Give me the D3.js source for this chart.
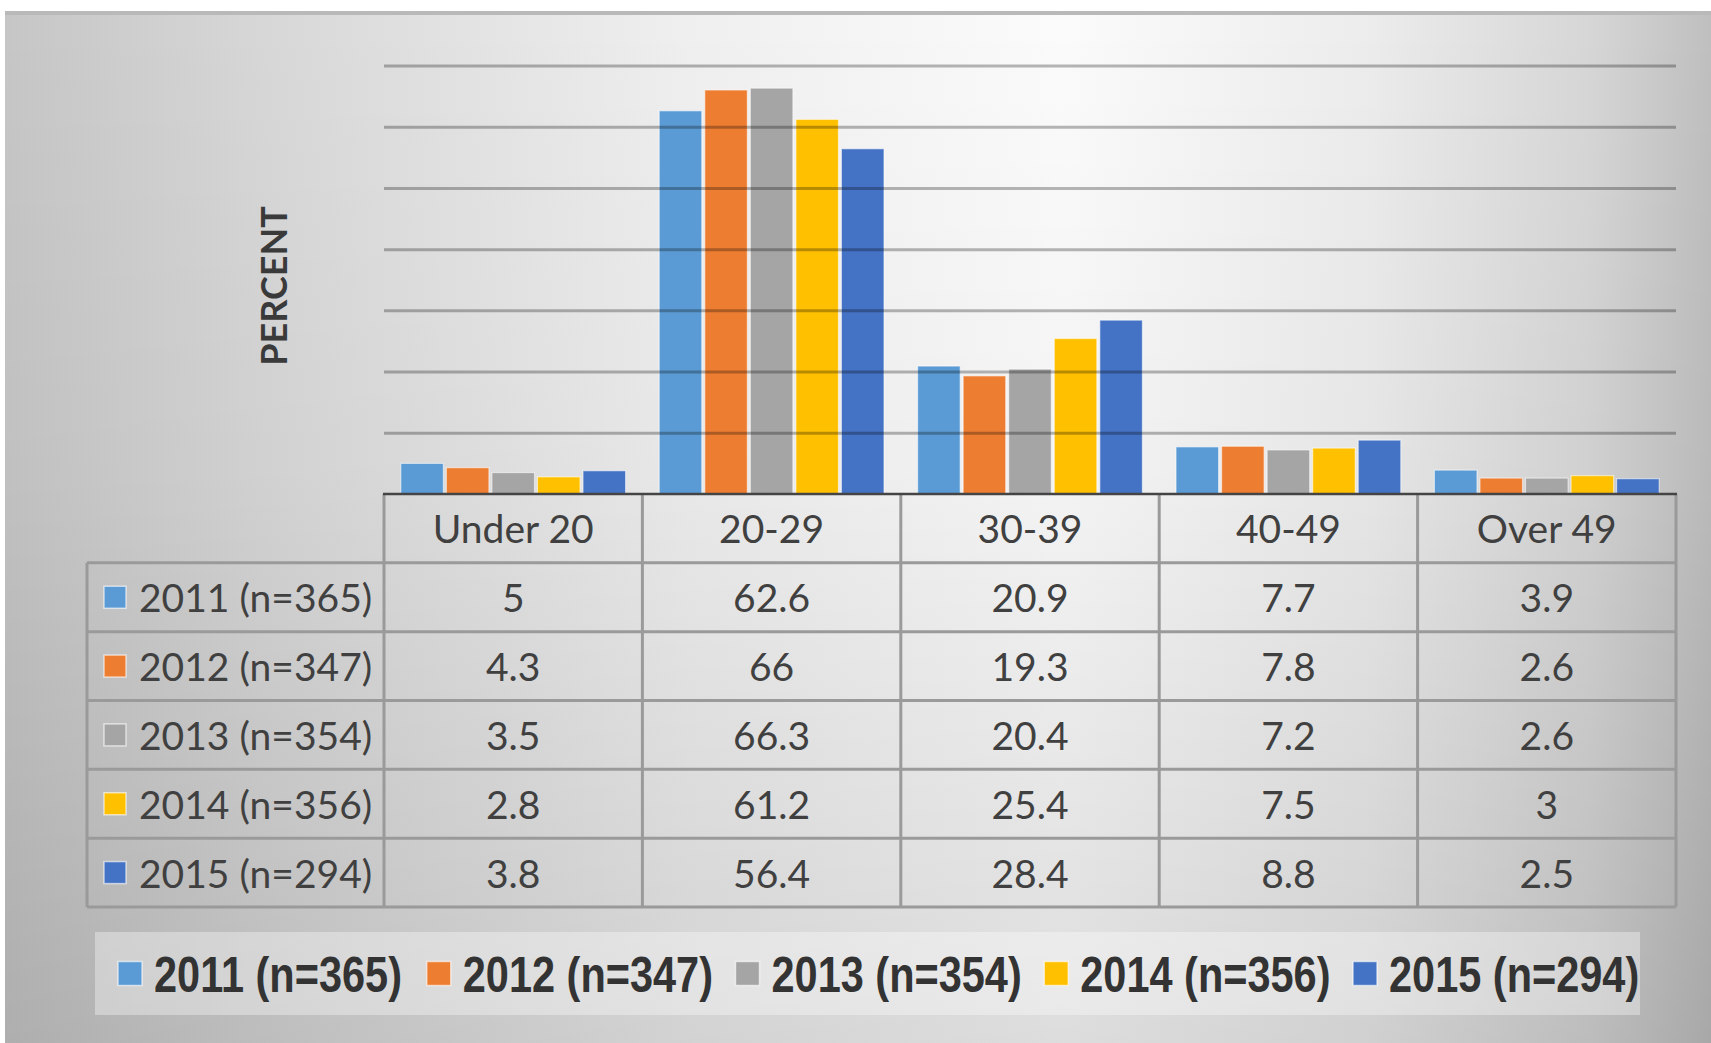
<!DOCTYPE html>
<html>
<head>
<meta charset="utf-8">
<script src="https://cdn.jsdelivr.net/npm/d3@7"></script>
<style>
  html, body { margin: 0; padding: 0; background: #ffffff; }
  svg { display: block; }
</style>
</head>
<body>
<svg id="chart" width="1711" height="1043"></svg>
<script>
// Age groups (x categories)
const categories = ["Under 20", "20-29", "30-39", "40-49", "Over 49"];

// Survey years (series)
const seriesNames = ["2011 (n=365)", "2012 (n=347)", "2013 (n=354)", "2014 (n=356)", "2015 (n=294)"];

// Percent of respondents per age group, one array per year
const values2011 = [5, 62.6, 20.9, 7.7, 3.9];
const values2012 = [4.3, 66, 19.3, 7.8, 2.6];
const values2013 = [3.5, 66.3, 20.4, 7.2, 2.6];
const values2014 = [2.8, 61.2, 25.4, 7.5, 3];
const values2015 = [3.8, 56.4, 28.4, 8.8, 2.5];

// Gridline values on the percent axis
const yTicks = [10, 20, 30, 40, 50, 60, 70];

const seriesColors = ["#5B9BD5", "#ED7D31", "#A5A5A5", "#FFC000", "#4472C4"];

const seriesValues = [values2011, values2012, values2013, values2014, values2015];
const series = seriesNames.map((name, i) => ({ name, color: seriesColors[i], values: seriesValues[i] }));

const W = 1711, H = 1043;
const svg = d3.select("#chart");
const defs = svg.append("defs");

// ---- background panel with soft gray shading ----
const hGrad = defs.append("linearGradient").attr("id", "bgH").attr("x1", 0).attr("x2", 1).attr("y1", 0).attr("y2", 0);
[[0, "#c6c6c6"], [0.18, "#dadada"], [0.4, "#efefef"], [0.62, "#fbfbfb"], [0.8, "#ececec"], [0.93, "#d6d6d6"], [1, "#bfbfbf"]]
  .forEach(([o, c]) => hGrad.append("stop").attr("offset", o).attr("stop-color", c));
const vGrad = defs.append("linearGradient").attr("id", "bgV").attr("x1", 0).attr("x2", 0).attr("y1", 0).attr("y2", 1);
[[0, 0], [0.45, 0.03], [1, 0.12]]
  .forEach(([o, a]) => vGrad.append("stop").attr("offset", o).attr("stop-color", "#000").attr("stop-opacity", a));

svg.append("rect").attr("x", 5).attr("y", 11).attr("width", W - 5).attr("height", H - 11).attr("fill", "url(#bgH)");
svg.append("rect").attr("x", 5).attr("y", 11).attr("width", W - 5).attr("height", H - 11).attr("fill", "url(#bgV)");
svg.append("line").attr("x1", 5).attr("x2", W).attr("y1", 13).attr("y2", 13)
  .attr("stroke", "#b9b9b9").attr("stroke-width", 4);

// ---- scales ----
const plotLeft = 384, plotRight = 1676, baseY = 494, topY = 65.5;
const tableLeft = 87;

const x0 = d3.scaleBand().domain(categories).range([plotLeft, plotRight])
  .paddingInner(0.13).paddingOuter(0.065);
const x1 = d3.scaleBand().domain(seriesNames).range([0, x0.bandwidth()])
  .paddingInner(0.065).paddingOuter(0);
const y = d3.scaleLinear().domain([0, 70]).range([baseY, topY]);

// Table rows: header row of category names, then one row per year
const rowKeys = ["header"].concat(seriesNames);
const rowScale = d3.scaleBand().domain(rowKeys).range([baseY, 907]);

// ---- bars ----
const barG = svg.append("g");
categories.forEach((cat, ci) => {
  const g = barG.append("g").attr("transform", `translate(${x0(cat)},0)`);
  g.selectAll("rect").data(series).join("rect")
    .attr("x", d => x1(d.name))
    .attr("width", x1.bandwidth())
    .attr("y", d => y(d.values[ci]))
    .attr("height", d => y(0) - y(d.values[ci]))
    .attr("fill", d => d.color)
    .attr("stroke", "#ffffff").attr("stroke-opacity", 0.55).attr("stroke-width", 1.2);
});

// ---- horizontal gridlines (drawn over the bars, semi-transparent) ----
const grid = svg.append("g").attr("transform", `translate(${plotLeft},0)`)
  .call(d3.axisLeft(y).tickValues(yTicks).tickSize(-(plotRight - plotLeft)).tickFormat(""));
grid.select(".domain").remove();
grid.selectAll(".tick line").attr("stroke", "#000").attr("stroke-opacity", 0.28).attr("stroke-width", 3);

// ---- y-axis title ----
svg.append("text")
  .attr("transform", "translate(273,286) rotate(-90)")
  .attr("text-anchor", "middle").attr("dominant-baseline", "central")
  .attr("font-family", "Lato, 'Open Sans', sans-serif").attr("font-weight", 700)
  .attr("font-size", 36).attr("fill", "#3a3a3a")
  .text("PERCENT");

// ---- data table ----
const tbl = svg.append("g");
const lineColor = "#9a9a9a";
const colEdges = d3.range(categories.length + 1).map(i => plotLeft + i * x0.step());
const rowEdges = rowKeys.map(k => rowScale(k)).concat([rowScale.range()[1]]);

// horizontal rules
rowEdges.slice(1).forEach(yy => {
  tbl.append("line").attr("x1", tableLeft).attr("x2", plotRight).attr("y1", yy).attr("y2", yy)
    .attr("stroke", lineColor).attr("stroke-width", 3);
});
// vertical rules
tbl.append("line").attr("x1", tableLeft).attr("x2", tableLeft)
  .attr("y1", rowEdges[1]).attr("y2", rowEdges[rowEdges.length - 1])
  .attr("stroke", lineColor).attr("stroke-width", 3);
colEdges.forEach(xx => {
  tbl.append("line").attr("x1", xx).attr("x2", xx)
    .attr("y1", baseY).attr("y2", rowEdges[rowEdges.length - 1])
    .attr("stroke", lineColor).attr("stroke-width", 3);
});

// category axis line
svg.append("line").attr("x1", plotLeft - 1).attr("x2", plotRight + 1).attr("y1", baseY).attr("y2", baseY)
  .attr("stroke", "#444").attr("stroke-width", 2.5);

const tableFont = "Lato, 'Open Sans', sans-serif";
const tableSize = 39;
const colCenter = c => x0(c) + x0.bandwidth() / 2;
const rowCenter = k => rowScale(k) + rowScale.bandwidth() / 2;

// category names
tbl.selectAll("text.cat").data(categories).join("text")
  .attr("class", "cat")
  .attr("x", d => colCenter(d)).attr("y", rowCenter("header"))
  .attr("text-anchor", "middle").attr("dominant-baseline", "central")
  .attr("font-family", tableFont).attr("font-size", tableSize).attr("fill", "#404040")
  .text(d => d);

// row headers with colour keys, and values
series.forEach(s => {
  const cy = rowCenter(s.name);
  tbl.append("rect").attr("x", 104).attr("y", cy - 11).attr("width", 22).attr("height", 22)
    .attr("fill", s.color).attr("stroke", "#ffffff").attr("stroke-opacity", 0.6).attr("stroke-width", 1.5);
  tbl.append("text").attr("x", 139).attr("y", cy)
    .attr("dominant-baseline", "central")
    .attr("font-family", tableFont).attr("font-size", tableSize).attr("fill", "#404040")
    .text(s.name);
  tbl.selectAll(null).data(categories).join("text")
    .attr("x", d => colCenter(d)).attr("y", cy)
    .attr("text-anchor", "middle").attr("dominant-baseline", "central")
    .attr("font-family", tableFont).attr("font-size", tableSize).attr("fill", "#404040")
    .text((d, i) => s.values[i]);
});

// ---- legend ----
const legendBox = { x: 95, y: 932, w: 1545, h: 83 };
svg.append("rect").attr("x", legendBox.x).attr("y", legendBox.y)
  .attr("width", legendBox.w).attr("height", legendBox.h)
  .attr("fill", "#ffffff").attr("fill-opacity", 0.35);

const legendX = d3.scalePoint().domain(seriesNames).range([118, 1353]);
const legendCY = legendBox.y + legendBox.h / 2;
const leg = svg.append("g");
series.forEach(s => {
  const lx = legendX(s.name);
  leg.append("rect").attr("x", lx).attr("y", legendCY - 12).attr("width", 24).attr("height", 24)
    .attr("fill", s.color).attr("stroke", "#ffffff").attr("stroke-opacity", 0.6).attr("stroke-width", 1.5);
  // condensed bold label: horizontally compressed sans
  leg.append("text")
    .attr("transform", `translate(${lx + 36},${legendCY + 1}) scale(0.83,1)`)
    .attr("dominant-baseline", "central")
    .attr("font-family", "'Liberation Sans', Arial, sans-serif")
    .attr("font-weight", 700).attr("font-size", 50).attr("fill", "#333333")
    .text(s.name);
});
</script>
</body>
</html>
